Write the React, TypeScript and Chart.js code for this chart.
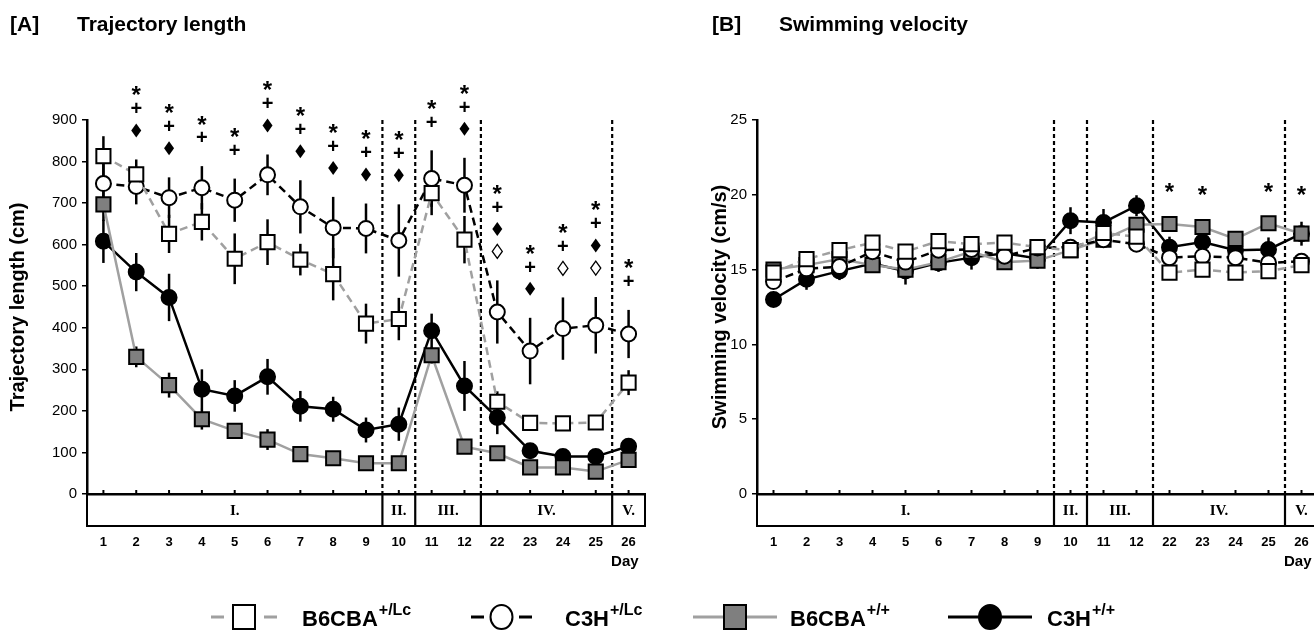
import React, { useEffect, useRef } from "react";
import { Chart, registerables } from "chart.js";
Chart.register(...registerables);

// ---------- data ----------
const days = ["1", "2", "3", "4", "5", "6", "7", "8", "9", "10", "11", "12", "22", "23", "24", "25", "26"];
const phaseNames = ["I.", "II.", "III.", "IV.", "V."];
const phaseSizes = [9, 1, 2, 4, 1];

const seriesNames = ["B6CBA", "C3H", "B6CBA", "C3H"];
const seriesSup = ["+/Lc", "+/Lc", "+/+", "+/+"];

// [A] Trajectory length (cm)
const trajB6Lc = [813, 769, 626, 655, 566, 606, 564, 529, 410, 421, 724, 612, 222, 171, 170, 172, 268];
const trajB6LcErr = [48, 36, 46, 45, 61, 55, 38, 63, 48, 51, 53, 57, 25, 10, 15, 12, 30];
const trajC3Lc = [747, 740, 713, 737, 707, 768, 691, 641, 639, 610, 759, 743, 438, 344, 398, 406, 385];
const trajC3LcErr = [48, 43, 49, 52, 52, 49, 64, 74, 60, 87, 68, 66, 76, 80, 75, 68, 58];
const trajB6WT = [697, 330, 262, 180, 152, 131, 96, 86, 74, 74, 334, 114, 98, 64, 64, 54, 82];
const trajB6WTErr = [40, 25, 30, 25, 10, 25, 10, 10, 10, 10, 20, 10, 10, 10, 10, 10, 10];
const trajC3WT = [608, 534, 473, 252, 236, 282, 211, 204, 154, 168, 393, 260, 184, 104, 90, 90, 115];
const trajC3WTErr = [52, 46, 57, 48, 38, 43, 37, 30, 30, 40, 41, 60, 40, 15, 12, 12, 15];
const trajMarks = ["", "*+♦", "*+♦", "*+", "*+", "*+♦", "*+♦", "*+♦", "*+♦", "*+♦", "*+", "*+♦", "*+♦◇", "*+♦", "*+◇", "*+♦◇", "*+"];

// [B] Swimming velocity (cm/s)
const velB6Lc = [14.8, 15.7, 16.3, 16.8, 16.2, 16.9, 16.7, 16.8, 16.5, 16.3, 17.45, 17.2, 14.8, 15.0, 14.8, 14.9, 15.3];
const velB6LcErr = [0.3, 0.4, 0.4, 0.4, 0.4, 0.4, 0.3, 0.4, 0.4, 0.4, 0.4, 0.4, 0.4, 0.5, 0.4, 0.5, 0.4];
const velC3Lc = [14.2, 15.05, 15.2, 16.2, 15.5, 16.3, 16.35, 15.9, 16.45, 16.5, 17.0, 16.7, 15.8, 15.9, 15.8, 15.45, 15.55];
const velC3LcErr = [0.4, 0.5, 0.4, 0.5, 0.5, 0.5, 0.5, 0.5, 0.5, 0.5, 0.5, 0.5, 0.5, 0.5, 0.5, 0.5, 0.5];
const velB6WT = [15.0, 15.3, 15.7, 15.3, 15.0, 15.5, 16.2, 15.5, 15.6, 16.3, 17.0, 18.0, 18.05, 17.85, 17.05, 18.1, 17.4];
const velB6WTErr = [0.3, 0.3, 0.3, 0.4, 0.4, 0.3, 0.3, 0.4, 0.3, 0.3, 0.3, 0.3, 0.3, 0.3, 0.3, 0.3, 0.3];
const velC3WT = [13.0, 14.35, 14.9, 15.4, 14.9, 15.45, 15.8, 16.1, 15.75, 18.27, 18.15, 19.27, 16.5, 16.85, 16.3, 16.35, 17.4];
const velC3WTErr = [0.4, 0.7, 0.6, 0.6, 0.9, 0.6, 0.8, 0.6, 0.7, 0.9, 0.9, 0.7, 0.7, 0.6, 0.5, 0.8, 0.8];
const velMarks = ["", "", "", "", "", "", "", "", "", "", "", "", "*", "*", "", "*", "*"];

// ---------- styles ----------
const SANS = "'Liberation Sans', Arial, Helvetica, sans-serif";
const SERIF = "'Liberation Serif', 'Times New Roman', serif";
const GREY_LINE = "#a0a0a0";
const GREY_FILL = "#7f7f7f";
const seriesStyle = [
  { line: GREY_LINE, dash: [8, 5], shape: "rect", fill: "#ffffff" },
  { line: "#000000", dash: [8, 5], shape: "circle", fill: "#ffffff" },
  { line: GREY_LINE, dash: [], shape: "rect", fill: GREY_FILL },
  { line: "#000000", dash: [], shape: "circle", fill: "#000000" },
];

function makeDatasets(values: number[][], errs: number[][]) {
  return values.map((v, i) => {
    const s = seriesStyle[i];
    return {
      label: seriesNames[i] + seriesSup[i],
      data: v,
      errors: errs[i],
      borderColor: s.line,
      borderDash: s.dash,
      borderWidth: 2.5,
      pointStyle: s.shape,
      pointRadius: s.shape === "rect" ? 10 : 7.5,
      pointBackgroundColor: s.fill,
      pointBorderColor: "#000",
      pointBorderWidth: 2,
      tension: 0,
      fill: false,
    } as any;
  });
}

function phaseBounds(chart: any) {
  const x = chart.scales.x;
  const out: number[] = [];
  let idx = 0;
  for (let i = 0; i < phaseSizes.length - 1; i++) {
    idx += phaseSizes[i];
    out.push((x.getPixelForValue(idx - 1) + x.getPixelForValue(idx)) / 2);
  }
  return out;
}

const BOX_H = 32;

const figurePlugin = {
  id: "figure",
  beforeDatasetsDraw(chart: any) {
    const { ctx, chartArea: ca, scales } = chart;
    const y = scales.y;
    ctx.save();
    ctx.strokeStyle = "#000";
    ctx.lineWidth = 2.2;
    ctx.setLineDash([4, 3]);
    for (const bx of phaseBounds(chart)) {
      ctx.beginPath();
      ctx.moveTo(bx, ca.top);
      ctx.lineTo(bx, ca.bottom);
      ctx.stroke();
    }
    ctx.setLineDash([]);
    ctx.lineWidth = 2.5;
    chart.data.datasets.forEach((ds: any, di: number) => {
      const meta = chart.getDatasetMeta(di);
      meta.data.forEach((pt: any, i: number) => {
        const v = ds.data[i];
        const e = ds.errors[i];
        ctx.beginPath();
        ctx.moveTo(pt.x, y.getPixelForValue(v + e));
        ctx.lineTo(pt.x, y.getPixelForValue(v - e));
        ctx.stroke();
      });
    });
    ctx.restore();
  },
  afterDraw(chart: any, _args: any, opts: any) {
    const { ctx, chartArea: ca, scales } = chart;
    const x = scales.x;
    const y = scales.y;
    ctx.save();
    ctx.strokeStyle = "#000";
    ctx.lineWidth = 2;
    for (let i = 0; i < chart.data.labels.length; i++) {
      const px = x.getPixelForValue(i);
      ctx.beginPath();
      ctx.moveTo(px, ca.bottom);
      ctx.lineTo(px, ca.bottom - 4);
      ctx.stroke();
    }
    const top = ca.bottom;
    const bot = ca.bottom + BOX_H;
    ctx.lineWidth = 2;
    ctx.strokeRect(ca.left, top, ca.right - ca.left, BOX_H);
    const bounds = phaseBounds(chart);
    const edges = [ca.left, ...bounds, ca.right];
    ctx.lineWidth = 2.2;
    for (const bx of bounds) {
      ctx.beginPath();
      ctx.moveTo(bx, top);
      ctx.lineTo(bx, bot);
      ctx.stroke();
    }
    ctx.fillStyle = "#000";
    ctx.font = `bold 15px ${SERIF}`;
    ctx.textAlign = "center";
    ctx.textBaseline = "middle";
    phaseNames.forEach((n, i) => {
      ctx.fillText(n, (edges[i] + edges[i + 1]) / 2, (top + bot) / 2 + 1);
    });
    ctx.font = `bold 15px ${SANS}`;
    ctx.textAlign = "right";
    const lastX = x.getPixelForValue(chart.data.labels.length - 1);
    ctx.fillText("Day", lastX + 10, ca.bottom + 68);
    const marks: string[] = opts.marks;
    const gap: number = opts.gap;
    for (let i = 0; i < marks.length; i++) {
      const m = Array.from(marks[i]);
      if (!m.length) continue;
      let topPx = Infinity;
      chart.data.datasets.forEach((ds: any) => {
        topPx = Math.min(topPx, y.getPixelForValue(ds.data[i] + ds.errors[i]));
      });
      const px = x.getPixelForValue(i);
      let cy = topPx - gap;
      for (let k = m.length - 1; k >= 0; k--) {
        const s = m[k];
        if (s === "*") {
          ctx.font = `bold 24px ${SANS}`;
          ctx.textAlign = "center";
          ctx.textBaseline = "alphabetic";
          ctx.fillText("*", px, cy + 0.58 * 24);
        } else if (s === "+") {
          ctx.font = `bold 20px ${SANS}`;
          ctx.textAlign = "center";
          ctx.textBaseline = "alphabetic";
          ctx.fillText("+", px, cy + 0.36 * 20);
        } else if (s === "♦" || s === "◇") {
          ctx.beginPath();
          ctx.moveTo(px, cy - 7);
          ctx.lineTo(px + 5, cy);
          ctx.lineTo(px, cy + 7);
          ctx.lineTo(px - 5, cy);
          ctx.closePath();
          if (s === "♦") ctx.fill();
          else {
            ctx.lineWidth = 1.3;
            ctx.stroke();
          }
        }
        if (k > 0) {
          const above = m[k - 1];
          cy -= above === "*" ? 18.5 : 22.5;
        }
      }
    }
    ctx.fillStyle = "#000";
    ctx.textAlign = "left";
    ctx.textBaseline = "alphabetic";
    ctx.font = `bold 21px ${SANS}`;
    ctx.fillText(opts.tag, opts.titleX, 31);
    ctx.fillText(opts.title, opts.titleX + 67, 31);
    ctx.restore();
  },
};

function baseOptions(yMin: number, yMax: number, step: number, yTitle: string, titlePad: number, rightPad: number, plug: any) {
  return {
    responsive: false,
    maintainAspectRatio: false,
    animation: false,
    events: [],
    layout: { padding: { left: 0, right: rightPad, top: 120, bottom: 0 } },
    plugins: { legend: { display: false }, tooltip: { enabled: false }, figure: plug },
    scales: {
      x: {
        type: "category",
        offset: true,
        grid: { display: true, offset: true, drawOnChartArea: false, drawTicks: true, tickLength: 39, color: "rgba(0,0,0,0)" },
        border: { display: true, color: "#000", width: 2.5 },
        ticks: { color: "#000", font: { family: SANS, size: 13, weight: "bold" }, padding: 2, maxRotation: 0, autoSkip: false },
        afterFit: (s: any) => { s.height = 86; },
      },
      y: {
        min: yMin,
        max: yMax,
        ticks: { stepSize: step, color: "#000", font: { family: SANS, size: 15 }, padding: 5 },
        grid: { drawOnChartArea: false, drawTicks: true, tickLength: 5, color: "#000", lineWidth: 1.5 },
        border: { display: true, color: "#000", width: 2.5 },
        title: { display: true, text: yTitle, color: "#000", font: { family: SANS, size: 20, weight: "bold" }, padding: { top: titlePad, bottom: 0 } },
        afterFit: (s: any) => { s.width = 87; },
      },
    },
  } as any;
}

const legendPlugin = {
  id: "figLegend",
  afterDraw(chart: any) {
    const ctx = chart.ctx;
    const lineStart = [211, 471, 693, 948];
    const lineEnd = [277, 532, 777, 1032];
    const textX = [302, 565, 790, 1047];
    const cy = 37;
    ctx.save();
    seriesStyle.forEach((s, i) => {
      const x0 = lineStart[i];
      const x1 = lineEnd[i];
      const cx = (x0 + x1) / 2;
      const solid = s.dash.length === 0;
      ctx.strokeStyle = s.line;
      ctx.lineWidth = 3;
      ctx.beginPath();
      if (solid) {
        ctx.moveTo(x0, cy);
        ctx.lineTo(x1, cy);
      } else {
        ctx.moveTo(x0, cy);
        ctx.lineTo(x0 + 13, cy);
        ctx.moveTo(x1 - 13, cy);
        ctx.lineTo(x1, cy);
      }
      ctx.stroke();
      ctx.fillStyle = s.fill;
      ctx.strokeStyle = "#000";
      ctx.lineWidth = 2;
      if (s.shape === "rect") {
        ctx.fillRect(cx - 11, cy - 12, 22, 24);
        ctx.strokeRect(cx - 11, cy - 12, 22, 24);
      } else {
        ctx.beginPath();
        ctx.ellipse(cx, cy, 11, 12, 0, 0, Math.PI * 2);
        ctx.fill();
        ctx.stroke();
      }
      ctx.fillStyle = "#000";
      ctx.textAlign = "left";
      ctx.textBaseline = "alphabetic";
      ctx.font = `bold 22px ${SANS}`;
      ctx.fillText(seriesNames[i], textX[i], cy + 9);
      const w = ctx.measureText(seriesNames[i]).width;
      ctx.font = `bold 16px ${SANS}`;
      ctx.fillText(seriesSup[i], textX[i] + w + 1, cy - 2);
    });
    ctx.restore();
  },
};

export default function App() {
  const refA = useRef<HTMLCanvasElement>(null);
  const refB = useRef<HTMLCanvasElement>(null);
  const refL = useRef<HTMLCanvasElement>(null);

  useEffect(() => {
    const a = new Chart(refA.current as HTMLCanvasElement, {
      type: "line",
      data: {
        labels: days,
        datasets: makeDatasets([trajB6Lc, trajC3Lc, trajB6WT, trajC3WT], [trajB6LcErr, trajC3LcErr, trajB6WTErr, trajC3WTErr]),
      },
      options: baseOptions(0, 900, 100, "Trajectory length (cm)", 6, 15, { marks: trajMarks, gap: 29, tag: "[A]", title: "Trajectory length", titleX: 10 }),
      plugins: [figurePlugin],
    });
    const b = new Chart(refB.current as HTMLCanvasElement, {
      type: "line",
      data: {
        labels: days,
        datasets: makeDatasets([velB6Lc, velC3Lc, velB6WT, velC3WT], [velB6LcErr, velC3LcErr, velB6WTErr, velC3WTErr]),
      },
      options: baseOptions(0, 25, 5, "Swimming velocity (cm/s)", 38, 22, { marks: velMarks, gap: 33, tag: "[B]", title: "Swimming velocity", titleX: 42 }),
      plugins: [figurePlugin],
    });
    const l = new Chart(refL.current as HTMLCanvasElement, {
      type: "line",
      data: { labels: [], datasets: [] },
      options: {
        responsive: false,
        animation: false,
        events: [],
        plugins: { legend: { display: false }, tooltip: { enabled: false } },
        scales: { x: { display: false }, y: { display: false } },
      } as any,
      plugins: [legendPlugin],
    });
    return () => {
      a.destroy();
      b.destroy();
      l.destroy();
    };
  }, []);

  return (
    <div style={{ position: "fixed", left: 0, top: 0, width: 1314, height: 637, overflow: "hidden", background: "#fff" }}>
      <canvas ref={refA} width={660} height={580} style={{ position: "absolute", left: 0, top: 0, width: 660, height: 580 }} />
      <canvas ref={refB} width={670} height={580} style={{ position: "absolute", left: 670, top: 0, width: 670, height: 580 }} />
      <canvas ref={refL} width={1314} height={57} style={{ position: "absolute", left: 0, top: 580, width: 1314, height: 57 }} />
    </div>
  );
}
